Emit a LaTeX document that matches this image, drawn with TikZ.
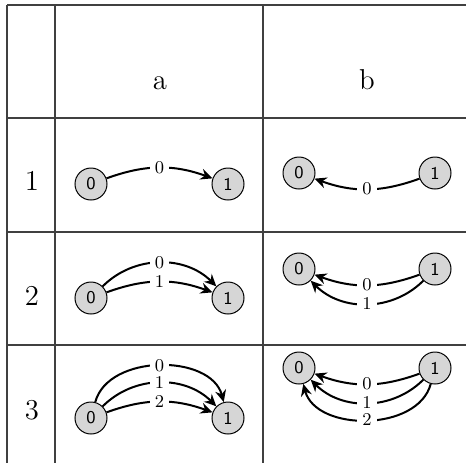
\documentclass[tikz,border=0pt]{standalone}
\usetikzlibrary{arrows.meta}
\begin{document}
\begin{tikzpicture}[x=0.5pt,y=-0.5pt,
  gridline/.style={draw=black!75,line width=0.6pt},
  hdr/.style={font=\Large,anchor=base,inner sep=0pt},
  st/.style={circle,draw=black,line width=0.5pt,fill=black!16,minimum size=16pt,inner sep=0pt,font=\small\sffamily},
  edge/.style={line width=1pt,-{Stealth[length=6pt,width=5.5pt,inset=2pt]}},
  lab/.style={fill=white,font=\small,inner sep=2.6pt}]
\useasboundingbox (0,0) rectangle (466,463);
% grid
\coordinate (t0) at (7,5);   \coordinate (t1) at (466,5);
\coordinate (h10) at (7,118); \coordinate (h11) at (466,118);
\coordinate (h20) at (7,232); \coordinate (h21) at (466,232);
\coordinate (h30) at (7,345); \coordinate (h31) at (466,345);
\coordinate (v10) at (7,5);   \coordinate (v11) at (7,463);
\coordinate (v20) at (55,5);  \coordinate (v21) at (55,463);
\coordinate (v30) at (263,5); \coordinate (v31) at (263,463);
\draw[gridline] (t0) -- (t1);
\draw[gridline] (h10) -- (h11);
\draw[gridline] (h20) -- (h21);
\draw[gridline] (h30) -- (h31);
\draw[gridline] (v10) -- (v11);
\draw[gridline] (v20) -- (v21);
\draw[gridline] (v30) -- (v31);
% headers
\node[hdr] (ha) at (160,89) {a};
\node[hdr] (hb) at (367,89) {b};
\node[hdr] (r1) at (32,190) {1};
\node[hdr] (r2) at (32,305) {2};
\node[hdr] (r3) at (32,419) {3};
% row 1
\node[st] (a10) at (91,184) {0};
\node[st] (a11) at (228,184) {1};
\draw[edge] (a10) to[bend left=20] node[lab] (la1) {0} (a11);
\node[st] (b10) at (299,173) {0};
\node[st] (b11) at (435,173) {1};
\draw[edge] (b11) to[bend left=20] node[lab] (lb1) {0} (b10);
% row 2
\node[st] (a20) at (91,298) {0};
\node[st] (a21) at (228,298) {1};
\draw[edge] (a20) to[bend left=45] node[lab] (la20) {0} (a21);
\draw[edge] (a20) to[bend left=20] node[lab] (la21) {1} (a21);
\node[st] (b20) at (299,269) {0};
\node[st] (b21) at (435,269) {1};
\draw[edge] (b21) to[bend left=20] node[lab] (lb20) {0} (b20);
\draw[edge] (b21) to[bend left=45] node[lab] (lb21) {1} (b20);
% row 3
\node[st] (a30) at (91,418) {0};
\node[st] (a31) at (228,418) {1};
\draw[edge] (a30) to[bend left=75] node[lab] (la30) {0} (a31);
\draw[edge] (a30) to[bend left=45] node[lab] (la31) {1} (a31);
\draw[edge] (a30) to[bend left=20] node[lab] (la32) {2} (a31);
\node[st] (b30) at (299,368) {0};
\node[st] (b31) at (435,368) {1};
\draw[edge] (b31) to[bend left=20] node[lab] (lb30) {0} (b30);
\draw[edge] (b31) to[bend left=45] node[lab] (lb31) {1} (b30);
\draw[edge] (b31) to[bend left=75] node[lab] (lb32) {2} (b30);
\end{tikzpicture}
\end{document}
